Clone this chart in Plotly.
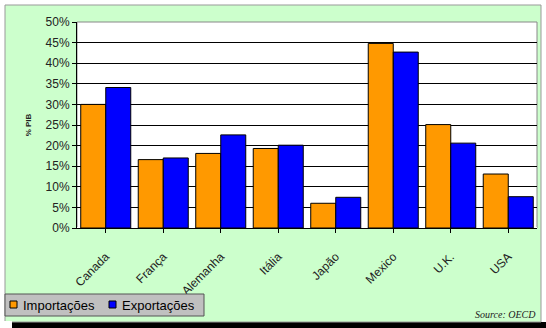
import plotly.graph_objects as go

categories = ["Canada", "França", "Alemanha", "Itália", "Japão", "Mexico", "U.K.", "USA"]
importacoes = [30.0, 16.6, 18.1, 19.3, 6.0, 44.8, 25.1, 13.1]
exportacoes = [34.1, 17.0, 22.6, 20.1, 7.45, 42.7, 20.6, 7.6]
y_ticks = [0, 5, 10, 15, 20, 25, 30, 35, 40, 45, 50]
y_tick_labels = [f"{v}%" for v in y_ticks]
series_names = ["Importações", "Exportações"]
series_colors = ["#FF9900", "#0000FF"]

fig = go.Figure()
for name, vals, col in zip(series_names, [importacoes, exportacoes], series_colors):
    fig.add_bar(x=categories, y=vals, name=name,
                marker=dict(color=col, line=dict(color="#000000", width=1)))

W, H = 546, 328
L, R, T, B = 77, 9, 22, 100
pw, ph = W - L - R, H - T - B

def px(x):
    return (x - L) / pw

def py(y):
    return (H - B - y) / ph

shapes = [
    dict(type="rect", xref="paper", yref="paper", x0=px(0), x1=px(W), y0=py(0), y1=py(322),
         fillcolor="#FFFFFF", line=dict(width=0), layer="below"),
    dict(type="rect", xref="paper", yref="paper", x0=px(5), x1=px(541), y0=py(5), y1=py(322),
         fillcolor="#CCFFCC", line=dict(color="#999999", width=1), layer="below"),
    dict(type="rect", xref="paper", yref="paper", x0=px(0), x1=px(12), y0=py(321), y1=py(H),
         fillcolor="#FFFFFF", line=dict(width=0), layer="below"),
    dict(type="rect", xref="paper", yref="paper", x0=0, x1=1, y0=0, y1=1,
         fillcolor="#FFFFFF", line=dict(color="#888888", width=1), layer="below"),
    # legend box
    dict(type="rect", xref="paper", yref="paper", x0=px(5), x1=px(204), y0=py(294), y1=py(316),
         fillcolor="#C0C0C0", line=dict(color="#555555", width=1), layer="above"),
]
annotations = [
    dict(text="<i>Source: OECD</i>", xref="paper", yref="paper", x=px(538), y=py(322),
         xanchor="right", yanchor="bottom", showarrow=False,
         font=dict(family="Liberation Serif, Times New Roman, serif", size=10, color="#222222")),
]
leg_sq_x = [10, 109]
leg_txt_x = [21, 120]
for name, col, sx, tx in zip(series_names, series_colors, leg_sq_x, leg_txt_x):
    shapes.append(dict(type="rect", xref="paper", yref="paper", x0=px(sx), x1=px(sx + 7),
                       y0=py(301), y1=py(308), fillcolor=col,
                       line=dict(color="#000000", width=1), layer="above"))
    annotations.append(dict(text=name, xref="paper", yref="paper", x=px(tx), y=py(305),
                            xanchor="left", yanchor="middle", showarrow=False,
                            font=dict(size=13, color="#000000")))

fig.update_layout(
    width=W, height=H,
    margin=dict(l=L, r=R, t=T, b=B),
    paper_bgcolor="#000000",
    plot_bgcolor="rgba(0,0,0,0)",
    barmode="group",
    bargap=0.13,
    bargroupgap=0,
    font=dict(family="Liberation Sans, Arial, sans-serif", size=12, color="#222222"),
    shapes=shapes,
    annotations=annotations,
    showlegend=False,
    xaxis=dict(tickangle=-45, showline=True, linecolor="#000000", linewidth=1,
               ticks="outside", ticklen=4, tickcolor="#000000", ticklabelstandoff=12,
               tickfont=dict(size=12, color="#222222"), showgrid=False),
    yaxis=dict(range=[0, 50], tickvals=y_ticks, ticktext=y_tick_labels,
               showline=True, linecolor="#000000", linewidth=1,
               ticks="outside", ticklen=4, tickcolor="#000000",
               showgrid=True, gridcolor="#000000", gridwidth=1,
               tickfont=dict(size=12, color="#222222"),
               title=dict(text="<b>% PIB</b>", font=dict(size=8, color="#222222"), standoff=12)),
)

fig.write_html("out.html")
